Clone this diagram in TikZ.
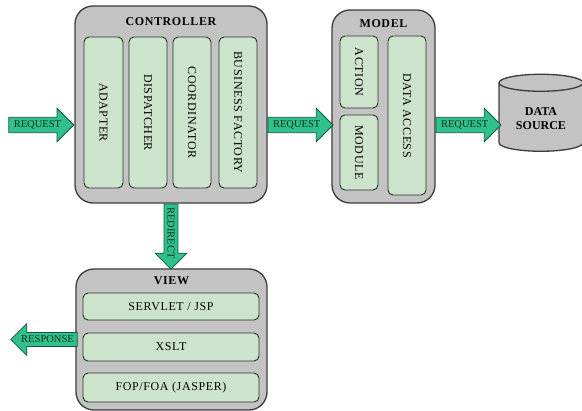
\documentclass[tikz,border=0pt]{standalone}
\usepackage{fontspec}
\setmainfont{Liberation Serif}
\usetikzlibrary{shapes.arrows,shapes.geometric}

\definecolor{boxgray}{RGB}{195,195,195}
\definecolor{boxline}{RGB}{60,60,60}
\definecolor{partgreen}{RGB}{204,228,204}
\definecolor{partline}{RGB}{40,50,40}
\definecolor{flowgreen}{RGB}{48,192,140}
\definecolor{flowline}{RGB}{20,90,60}
\definecolor{flowtext}{RGB}{15,50,35}

\tikzset{
  box/.style={draw=boxline,fill=boxgray,line width=1.3pt,rounded corners=18pt},
  part/.style={draw=partline,fill=partgreen,line width=0.9pt,rounded corners=5pt,
    inner sep=0pt,font=\fontsize{12}{14}\selectfont\addfontfeatures{LetterSpace=5}},
  title/.style={font=\fontsize{12}{14}\bfseries\selectfont\addfontfeatures{LetterSpace=5}},
  flow/.style={single arrow,draw=flowline,fill=flowgreen,line width=0.8pt,
    single arrow head extend=9pt,minimum height=65pt,inner sep=3pt,
    text=flowtext,font=\fontsize{10.5}{11}\selectfont}
}

\begin{document}
\begin{tikzpicture}[x=1pt,y=-1pt]
\useasboundingbox (0,0) rectangle (582,411);

% controller
\node[box,minimum width=192,minimum height=197] (ctrl) at (171,104.5) {};
\node[title] (ctrltitle) at (171,22) {CONTROLLER};
\node[part,rotate=-90,minimum width=151,minimum height=39] (adapter) at (103.5,112.5) {ADAPTER};
\node[part,rotate=-90,minimum width=151,minimum height=38] (dispatcher) at (148,112.5) {DISPATCHER};
\node[part,rotate=-90,minimum width=151,minimum height=38] (coordinator) at (192,112.5) {COORDINATOR};
\node[part,rotate=-90,minimum width=151,minimum height=38] (business) at (238,112.5) {BUSINESS FACTORY};

% model
\node[box,minimum width=103,minimum height=193] (model) at (383.5,106.5) {};
\node[title] (modeltitle) at (383.5,24) {MODEL};
\node[part,rotate=-90,minimum width=72,minimum height=38] (action) at (359,72) {ACTION};
\node[part,rotate=-90,minimum width=75,minimum height=38] (module) at (359,152.5) {MODULE};
\node[part,rotate=-90,minimum width=159,minimum height=38] (access) at (407,115.5) {DATA ACCESS};

% data source
\node[cylinder,shape border rotate=90,aspect=0.3,draw=boxline,fill=boxgray,line width=1.3pt,
  minimum width=84,minimum height=77,align=center,
  font=\fontsize{12}{14}\bfseries\selectfont] (data) at (541,119) {DATA\\SOURCE};

% view
\node[box,minimum width=191,minimum height=141] (view) at (171.5,339.5) {};
\node[title] (viewtitle) at (171.5,281) {VIEW};
\node[part,minimum width=176,minimum height=27] (servlet) at (171,306.5) {SERVLET / JSP};
\node[part,minimum width=176,minimum height=28] (xslt) at (171,347) {XSLT};
\node[part,minimum width=176,minimum height=29] (fop) at (171,387.5) {FOP/FOA (JASPER)};

% flows
\node[flow,anchor=tip] (reqin) at ([yshift=-20.5pt]ctrl.west) {REQUEST};
\node[flow,anchor=tail] (reqmodel) at ([yshift=-20.5pt]ctrl.east) {REQUEST};
\node[flow,anchor=tail] (reqdata) at ([yshift=-18.5pt]model.east) {REQUEST};
\node[flow,rotate=-90,anchor=tail] (redirect) at (ctrl.south) {REDIRECT};
\node[flow,shape border rotate=180,anchor=tip] (response) at ([xshift=-65pt]view.west) {RESPONSE};
\end{tikzpicture}
\end{document}
